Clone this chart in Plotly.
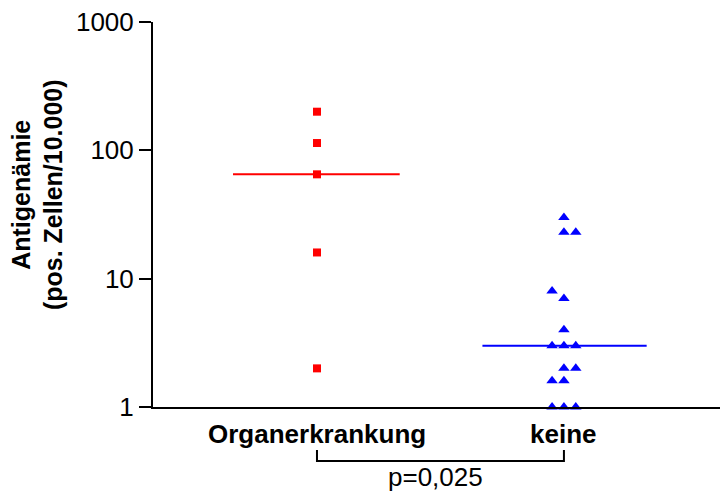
import plotly.graph_objects as go

# Data
categories = ["Organerkrankung", "keine"]
organ_values = [200, 114, 65, 16, 2]
organ_offsets = [0, 0, 0, 0, 0]
keine_values = [30, 23, 23, 8, 7, 4, 3, 3, 3, 2, 2, 1.6, 1.6, 1, 1, 1]
keine_offsets = [0, 0, 1, -1, 0, 0, -1, 0, 1, 0, 1, -1, 0, -1, 0, 1]
organ_median = 65
keine_median = 3
p_text = "p=0,025"
y_tickvals = [1, 10, 100, 1000]
y_ticktext = ["1", "10", "100", "1000"]

FONT = "Liberation Sans, Arial, sans-serif"
jit = 0.048

fig = go.Figure()
fig.add_trace(go.Scatter(
    x=[0 + o * jit for o in organ_offsets], y=organ_values, mode="markers",
    marker=dict(symbol="square", size=8, color="#ff0000"), cliponaxis=False, showlegend=False))
fig.add_trace(go.Scatter(
    x=[1 + o * jit for o in keine_offsets], y=keine_values, mode="markers",
    marker=dict(symbol="triangle-up", size=10, color="#0000ff"), cliponaxis=False, showlegend=False))
fig.add_trace(go.Scatter(
    x=[-0.34, 0.335], y=[organ_median, organ_median], mode="lines",
    line=dict(color="#ff0000", width=2), showlegend=False))
fig.add_trace(go.Scatter(
    x=[1 - 0.33, 1 + 0.335], y=[keine_median, keine_median], mode="lines",
    line=dict(color="#0000ff", width=2), showlegend=False))

fig.update_layout(
    width=720, height=491,
    margin=dict(l=153, r=0, t=22, b=84),
    plot_bgcolor="white", paper_bgcolor="white",
    font=dict(family=FONT, color="black", size=20),
    xaxis=dict(range=[-0.664, 1.632], showgrid=False, zeroline=False,
               showline=True, linecolor="black", linewidth=2,
               tickvals=[], showticklabels=False),
    yaxis=dict(type="log", range=[0, 3], showgrid=False, zeroline=False,
               showline=True, linecolor="black", linewidth=2,
               tickvals=y_tickvals, ticktext=y_ticktext,
               ticks="outside", ticklen=12, tickwidth=2, tickcolor="black",
               tickfont=dict(size=26, family=FONT)),
)

# category labels
for i, c in enumerate(categories):
    fig.add_annotation(x=i, y=-0.0701, xref="x", yref="paper", text="<b>%s</b>" % c,
                       showarrow=False, font=dict(size=26, family=FONT),
                       xanchor="center", yanchor="middle")

# bracket
fig.add_shape(type="path", xref="x", yref="paper",
              path="M 0,-0.112 L 0,-0.140 L 1,-0.140 L 1,-0.112",
              line=dict(color="black", width=2))
fig.add_annotation(x=0.478, y=-0.183, xref="x", yref="paper", text=p_text,
                   showarrow=False, font=dict(size=26, family=FONT),
                   xanchor="center", yanchor="middle")

# y title
fig.add_annotation(x=-0.2046, y=0.553, xref="paper", yref="paper",
                   text="<b>Antigenämie<br>(pos. Zellen/10.000)</b>",
                   showarrow=False, textangle=-90, font=dict(size=25, family=FONT),
                   xanchor="center", yanchor="middle")

fig.write_html("out.html")
